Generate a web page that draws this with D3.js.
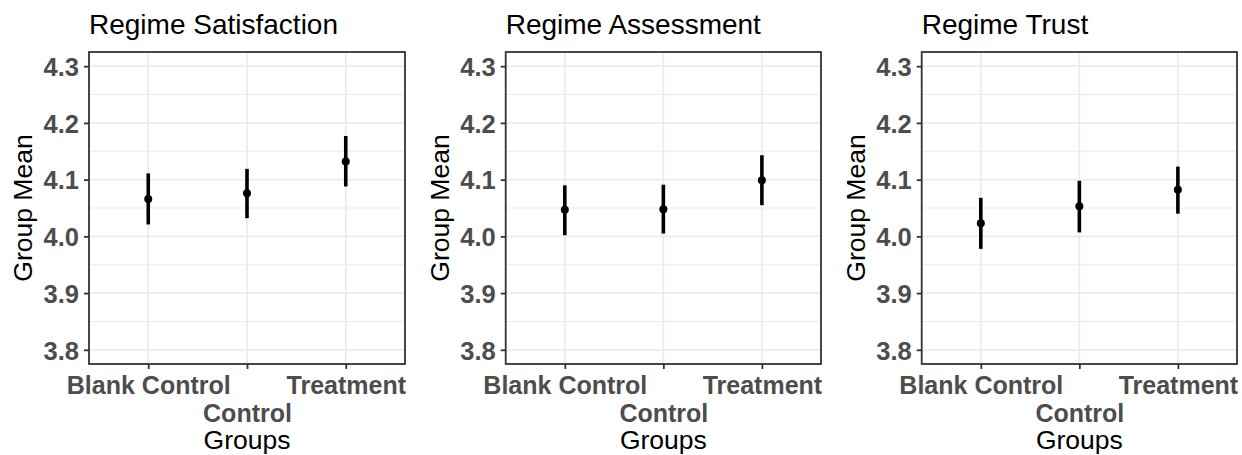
<!DOCTYPE html>
<html>
<head>
<meta charset="utf-8">
<script src="https://cdn.jsdelivr.net/npm/d3@7"></script>
<style>
  body { margin: 0; background: #fff; }
  svg { display: block; font-family: "Liberation Sans", Arial, sans-serif; }
</style>
</head>
<body>
<div id="chart"></div>
<script>
// data
var groups = ['Blank Control', 'Control', 'Treatment']
var panelTitles = ['Regime Satisfaction', 'Regime Assessment', 'Regime Trust']
var yTicks = [3.8, 3.9, 4.0, 4.1, 4.2, 4.3]
var yLimits = [3.8, 4.3]

var satisfactionMean = [4.066, 4.076, 4.132]
var satisfactionLow = [4.021, 4.032, 4.088]
var satisfactionHigh = [4.111, 4.119, 4.177]

var assessmentMean = [4.047, 4.048, 4.099]
var assessmentLow = [4.002, 4.005, 4.055]
var assessmentHigh = [4.090, 4.091, 4.143]

var trustMean = [4.023, 4.053, 4.082]
var trustLow = [3.978, 4.007, 4.040]
var trustHigh = [4.068, 4.098, 4.123]

var panels = [
  { title: panelTitles[0], mean: satisfactionMean, lo: satisfactionLow, hi: satisfactionHigh, left: 89, width: 316 },
  { title: panelTitles[1], mean: assessmentMean, lo: assessmentLow, hi: assessmentHigh, left: 505.7, width: 315.3 },
  { title: panelTitles[2], mean: trustMean, lo: trustLow, hi: trustHigh, left: 921.7, width: 315.3 }
]

var width = 1242
var height = 455
var plotTop = 52
var plotBottom = 364

var svg = d3.select('#chart')
  .append('svg')
  .attr('width', width)
  .attr('height', height)

// ggplot-like 5% expansion
var pad = (yLimits[1] - yLimits[0]) * 0.05
var y = d3.scaleLinear()
  .domain([yLimits[0] - pad, yLimits[1] + pad])
  .range([plotBottom, plotTop])

var minorTicks = d3.range(3.75, 4.36, 0.05).filter(function (v) {
  return v > y.domain()[0] && v < y.domain()[1] && Math.round(v * 100) % 10 !== 0
})

panels.forEach(function (p) {
  var x = d3.scalePoint()
    .domain(groups)
    .range([p.left, p.left + p.width])
    .padding(0.6)

  var g = svg.append('g')

  // minor grid
  g.append('g')
    .selectAll('line')
    .data(minorTicks)
    .join('line')
    .attr('x1', p.left).attr('x2', p.left + p.width)
    .attr('y1', function (d) { return y(d) }).attr('y2', function (d) { return y(d) })
    .attr('stroke', '#ebebeb')
    .attr('stroke-width', 1)

  // major grid
  g.append('g')
    .selectAll('line')
    .data(yTicks)
    .join('line')
    .attr('x1', p.left).attr('x2', p.left + p.width)
    .attr('y1', function (d) { return y(d) }).attr('y2', function (d) { return y(d) })
    .attr('stroke', '#ebebeb')
    .attr('stroke-width', 1.8)

  g.append('g')
    .selectAll('line')
    .data(groups)
    .join('line')
    .attr('x1', function (d) { return x(d) }).attr('x2', function (d) { return x(d) })
    .attr('y1', plotTop).attr('y2', plotBottom)
    .attr('stroke', '#ebebeb')
    .attr('stroke-width', 1.8)

  // error bars
  g.append('g')
    .selectAll('line')
    .data(groups)
    .join('line')
    .attr('x1', function (d) { return x(d) }).attr('x2', function (d) { return x(d) })
    .attr('y1', function (d, i) { return y(p.lo[i]) })
    .attr('y2', function (d, i) { return y(p.hi[i]) })
    .attr('stroke', '#000')
    .attr('stroke-width', 3.6)

  g.append('g')
    .selectAll('circle')
    .data(groups)
    .join('circle')
    .attr('cx', function (d) { return x(d) })
    .attr('cy', function (d, i) { return y(p.mean[i]) })
    .attr('r', 4)
    .attr('fill', '#000')

  // panel border
  g.append('rect')
    .attr('x', p.left).attr('y', plotTop)
    .attr('width', p.width).attr('height', plotBottom - plotTop)
    .attr('fill', 'none')
    .attr('stroke', '#333333')
    .attr('stroke-width', 1.8)

  // y axis
  var yAxis = g.append('g')
    .attr('transform', 'translate(' + p.left + ',0)')
    .call(d3.axisLeft(y).tickValues(yTicks).tickFormat(d3.format('.1f')).tickSize(5).tickPadding(5))
  yAxis.select('.domain').remove()
  yAxis.selectAll('.tick line').attr('stroke', '#333333').attr('stroke-width', 1.8)
  yAxis.selectAll('.tick text')
    .attr('fill', '#4d4d4d')
    .attr('font-size', 25.5)
    .attr('font-weight', 'bold')
    .attr('font-family', '"Liberation Sans", Arial, sans-serif')
    .attr('dy', '0.36em')

  // x axis, labels dodged onto two rows
  var xAxis = g.append('g')
    .attr('transform', 'translate(0,' + plotBottom + ')')
    .call(d3.axisBottom(x).tickSize(5).tickPadding(5))
  xAxis.select('.domain').remove()
  xAxis.selectAll('.tick line').attr('stroke', '#333333').attr('stroke-width', 1.8)
  xAxis.selectAll('.tick text')
    .attr('fill', '#4d4d4d')
    .attr('font-size', 25)
    .attr('font-weight', 'bold')
    .attr('font-family', '"Liberation Sans", Arial, sans-serif')
    .attr('dy', null)
    .attr('y', function (d, i) { return i % 2 === 0 ? 29.5 : 58 })

  // titles
  g.append('text')
    .attr('x', p.left)
    .attr('y', 33.5)
    .attr('font-size', 28)
    .attr('fill', '#000')
    .text(p.title)

  g.append('text')
    .attr('x', p.left + p.width / 2)
    .attr('y', 449)
    .attr('text-anchor', 'middle')
    .attr('font-size', 26.5)
    .attr('fill', '#000')
    .text('Groups')

  g.append('text')
    .attr('transform', 'translate(' + (p.left - 57) + ',' + (plotTop + plotBottom) / 2 + ') rotate(-90)')
    .attr('text-anchor', 'middle')
    .attr('font-size', 26.5)
    .attr('fill', '#000')
    .text('Group Mean')
})
</script>
</body>
</html>
